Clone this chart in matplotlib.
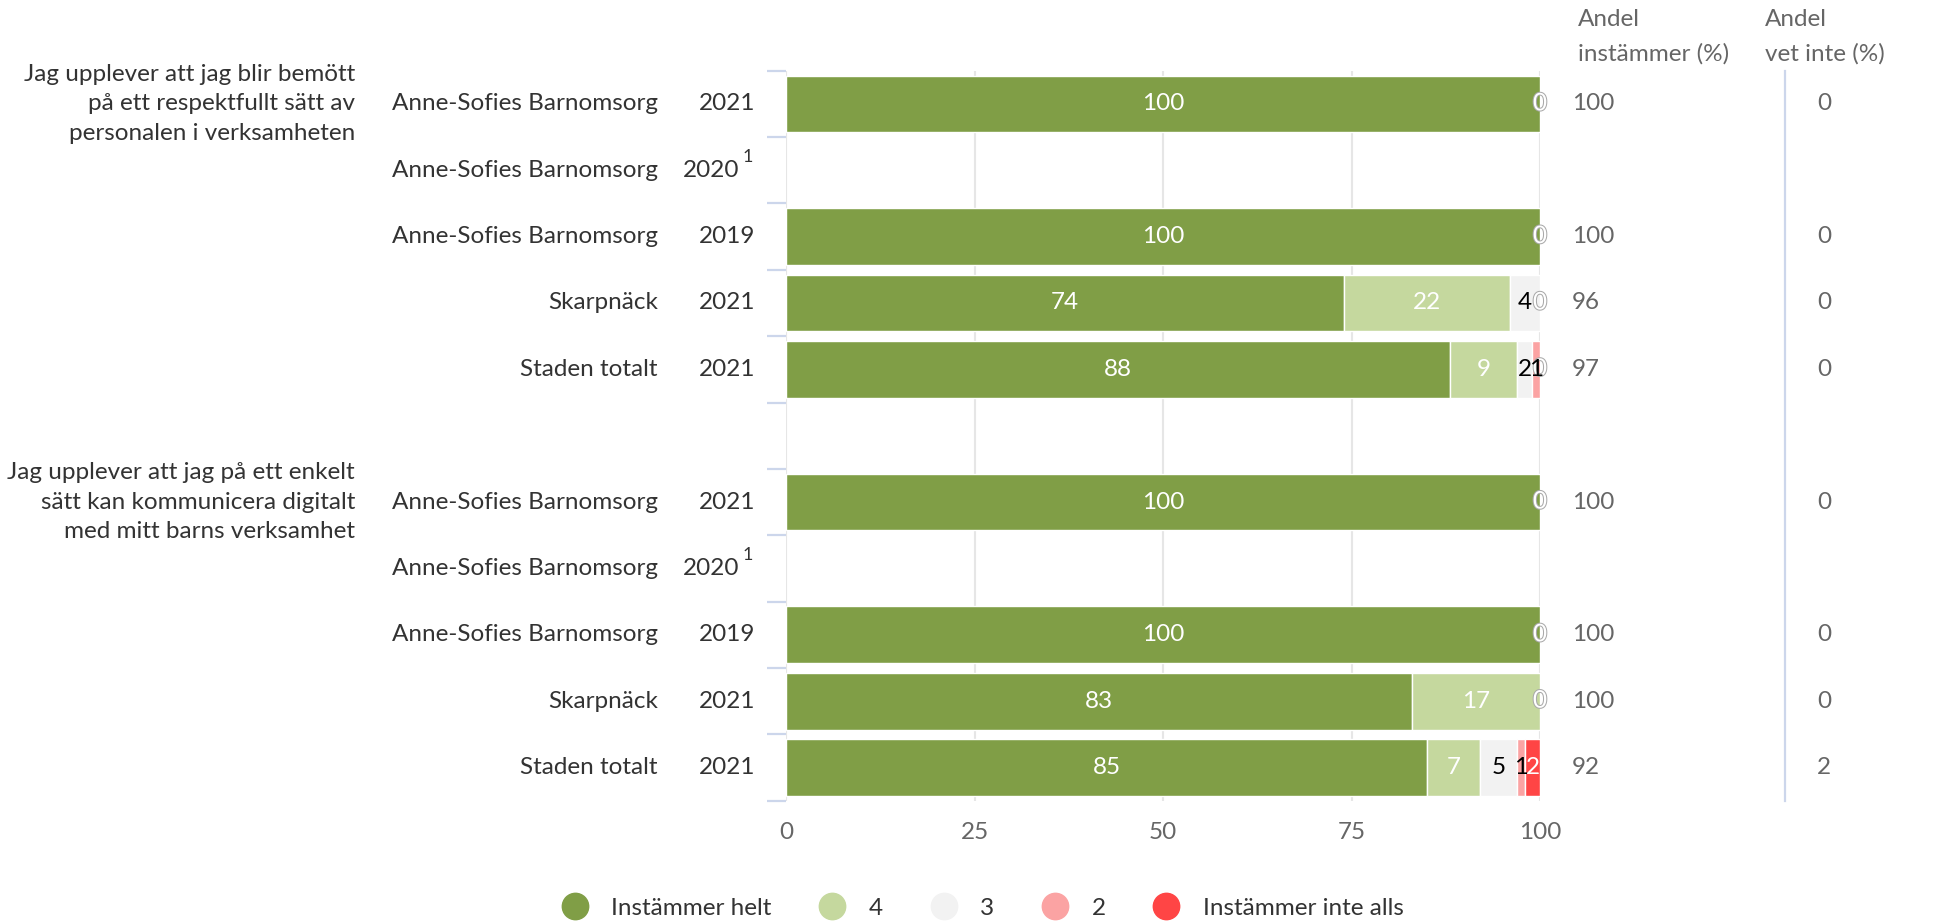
import numpy as np
import matplotlib
matplotlib.use('Agg')
import matplotlib.pyplot as plt
import matplotlib.transforms as mtransforms
import matplotlib.patheffects as pe
from matplotlib.lines import Line2D

plt.rcParams['font.family'] = ['Lato', 'DejaVu Sans']

questions = ['Jag upplever att jag blir bemött\npå ett respektfullt sätt av\npersonalen i verksamheten',
             'Jag upplever att jag på ett enkelt\nsätt kan kommunicera digitalt\nmed mitt barns verksamhet']
names = ['Anne-Sofies Barnomsorg', 'Anne-Sofies Barnomsorg', 'Anne-Sofies Barnomsorg',
         'Skarpnäck', 'Staden totalt']
years = ['2021', '2020', '2019', '2021', '2021']

series_names = ['Instämmer helt', '4', '3', '2', 'Instämmer inte alls']
colors = ['#809e46', '#c5d89e', '#f2f2f2', '#fba3a3', '#ff4545']
label_colors = ['white', 'white', 'black', 'black', 'white']

nan = np.nan
# fråga 1
helt_q1 = [100, nan, 100, 74, 88]
fyra_q1 = [0, nan, 0, 22, 9]
tre_q1 = [0, nan, 0, 4, 2]
tva_q1 = [0, nan, 0, 0, 1]
inte_q1 = [0, nan, 0, 0, 0]
andel_q1 = ['100', '', '100', '96', '97']
vetinte_q1 = ['0', '', '0', '0', '0']
# fråga 2
helt_q2 = [100, nan, 100, 83, 85]
fyra_q2 = [0, nan, 0, 17, 7]
tre_q2 = [0, nan, 0, 0, 5]
tva_q2 = [0, nan, 0, 0, 1]
inte_q2 = [0, nan, 0, 0, 2]
andel_q2 = ['100', '', '100', '100', '92']
vetinte_q2 = ['0', '', '0', '0', '2']

groups = [
    ([helt_q1, fyra_q1, tre_q1, tva_q1, inte_q1], andel_q1, vetinte_q1),
    ([helt_q2, fyra_q2, tre_q2, tva_q2, inte_q2], andel_q2, vetinte_q2),
]

W, H = 1944.0, 923.0
fig = plt.figure(figsize=(19.44, 9.23), dpi=100)
ax_top, ax_bot = 70.7, 800.7
ax = fig.add_axes([786 / W, 1 - ax_bot / H, (1540 - 786) / W, (ax_bot - ax_top) / H])

tick_col = '#ccd6eb'
txt_col = '#333333'
fs = 17.5

ax.set_xlim(0, 100)
ax.set_ylim(10.5, -0.5)
for s in ax.spines.values():
    s.set_visible(False)
ax.set_xticks([0, 25, 50, 75, 100])
ax.set_xticklabels(['0', '25', '50', '75', '100'], color='#666666', fontsize=fs)
ax.tick_params(axis='x', length=0, pad=15)
ax.xaxis.grid(True, color='#e6e6e6', linewidth=1.5)
ax.set_axisbelow(True)
ax.set_yticks(np.arange(-0.5, 11, 1))
ax.set_yticklabels([])
ax.tick_params(axis='y', length=14, width=1.6, color=tick_col)

blend = mtransforms.blended_transform_factory(fig.transFigure, ax.transData)

for g, (vals, andel, vet) in enumerate(groups):
    base = g * 6
    ax.text(355 / W, base, questions[g], transform=blend, ha='right', va='center',
            fontsize=fs, color=txt_col, linespacing=1.5)
    for i in range(5):
        y = base + i
        ax.text(658 / W, y, names[i], transform=blend, ha='right', va='center',
                fontsize=fs, color=txt_col)
        if years[i] == '2020':
            ax.text(739 / W, y, years[i], transform=blend, ha='right', va='center',
                    fontsize=fs, color=txt_col)
            ax.text(743 / W, y - 0.2, '1', transform=blend, ha='left', va='center',
                    fontsize=13, color=txt_col)
        else:
            ax.text(755 / W, y, years[i], transform=blend, ha='right', va='center',
                    fontsize=fs, color=txt_col)
        ax.text(1572 / W, y, andel[i], transform=blend, ha='left', va='center',
                fontsize=fs, color='#666666')
        ax.text(1817 / W, y, vet[i], transform=blend, ha='left', va='center',
                fontsize=fs, color='#666666')
        if np.isnan(vals[0][i]):
            continue
        left = 0
        zero_pos = set()
        for k in range(5):
            v = vals[k][i]
            if v > 0:
                ax.barh(y, v, left=left, height=0.855, color=colors[k],
                        edgecolor='white', linewidth=1)
                ax.text(left + v / 2, y, str(int(v)), ha='center', va='center',
                        fontsize=fs, color=label_colors[k], zorder=6)
            else:
                zero_pos.add(left)
            left += v
        for zp in zero_pos:
            ax.text(zp, y, '0', ha='center', va='center', fontsize=fs, color='white', zorder=5,
                    path_effects=[pe.withStroke(linewidth=1.5, foreground='#aaaaaa')])

# right column headers and divider
hdr_col = '#666666'
fig.text(1578 / W, 1 - 19 / H, 'Andel', ha='left', va='center', fontsize=fs, color=hdr_col)
fig.text(1578 / W, 1 - 54 / H, 'instämmer (%)', ha='left', va='center', fontsize=fs, color=hdr_col)
fig.text(1765 / W, 1 - 19 / H, 'Andel', ha='left', va='center', fontsize=fs, color=hdr_col)
fig.text(1765 / W, 1 - 54 / H, 'vet inte (%)', ha='left', va='center', fontsize=fs, color=hdr_col)
fig.add_artist(Line2D([1785 / W, 1785 / W], [1 - ax_top / H, 1 - ax_bot / H],
                      color=tick_col, linewidth=1.6))

handles = [Line2D([], [], marker='o', linestyle='none', markersize=19,
                  markerfacecolor=c, markeredgecolor=c) for c in colors]
fig.legend(handles, series_names, loc='center', bbox_to_anchor=(977 / W, 1 - 908 / H),
           ncol=5, frameon=False, fontsize=fs, handletextpad=0.5, columnspacing=1.5,
           labelcolor=txt_col)

fig.savefig('out.png', dpi=100)
